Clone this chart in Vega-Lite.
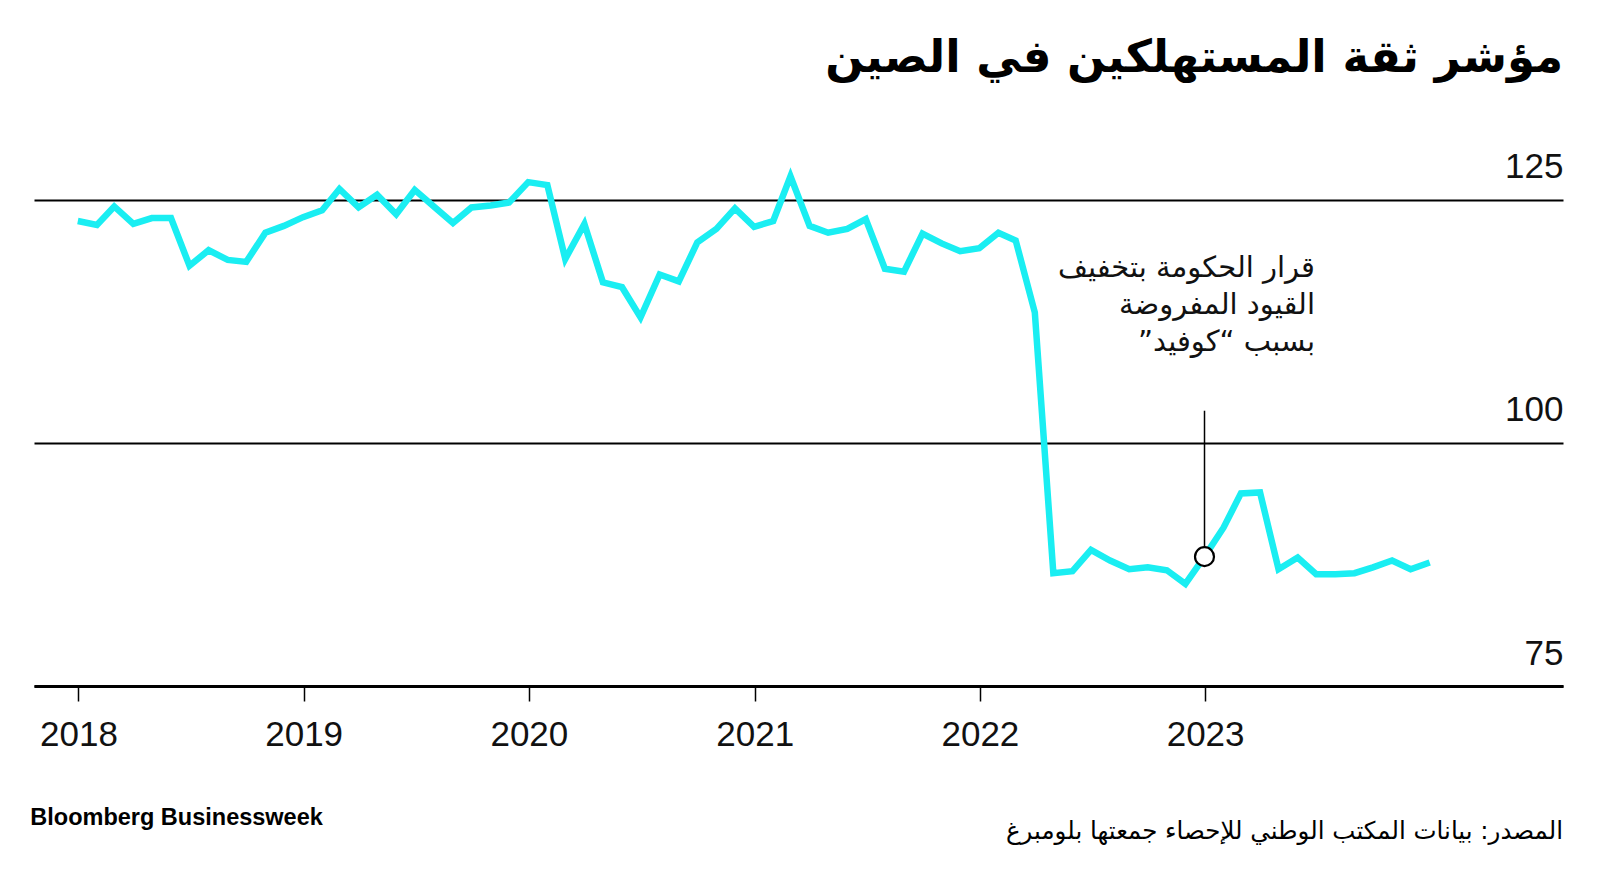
{
  "$schema": "https://vega.github.io/schema/vega-lite/v6.json",
  "width": 1529,
  "height": 535,
  "autosize": {"type": "none"},
  "padding": {"left": 34, "top": 151, "right": 37, "bottom": 184},
  "background": "white",
  "config": {"view": {"stroke": null}, "font": "Liberation Sans"},
  "layer": [
    {
      "data": {"values": [
        {"date": "2017-12-31", "value": 122.8},
        {"date": "2018-01-31", "value": 122.4},
        {"date": "2018-02-28", "value": 124.3},
        {"date": "2018-03-31", "value": 122.5},
        {"date": "2018-04-30", "value": 123.1},
        {"date": "2018-05-31", "value": 123.1},
        {"date": "2018-06-30", "value": 118.2},
        {"date": "2018-07-31", "value": 119.8},
        {"date": "2018-08-31", "value": 118.8},
        {"date": "2018-09-30", "value": 118.6},
        {"date": "2018-10-31", "value": 121.6},
        {"date": "2018-11-30", "value": 122.3},
        {"date": "2018-12-31", "value": 123.2},
        {"date": "2019-01-31", "value": 123.9},
        {"date": "2019-02-28", "value": 126.1},
        {"date": "2019-03-31", "value": 124.2},
        {"date": "2019-04-30", "value": 125.5},
        {"date": "2019-05-31", "value": 123.5},
        {"date": "2019-06-30", "value": 126.0},
        {"date": "2019-07-31", "value": 124.3},
        {"date": "2019-08-31", "value": 122.6},
        {"date": "2019-09-30", "value": 124.2},
        {"date": "2019-10-31", "value": 124.4},
        {"date": "2019-11-30", "value": 124.7},
        {"date": "2019-12-31", "value": 126.8},
        {"date": "2020-01-31", "value": 126.5},
        {"date": "2020-02-29", "value": 118.9},
        {"date": "2020-03-31", "value": 122.5},
        {"date": "2020-04-30", "value": 116.5},
        {"date": "2020-05-31", "value": 116.0},
        {"date": "2020-06-30", "value": 112.9},
        {"date": "2020-07-31", "value": 117.3},
        {"date": "2020-08-31", "value": 116.6},
        {"date": "2020-09-30", "value": 120.6},
        {"date": "2020-10-31", "value": 122.0},
        {"date": "2020-11-30", "value": 124.1},
        {"date": "2020-12-31", "value": 122.2},
        {"date": "2021-01-31", "value": 122.8},
        {"date": "2021-02-28", "value": 127.4},
        {"date": "2021-03-31", "value": 122.3},
        {"date": "2021-04-30", "value": 121.6},
        {"date": "2021-05-31", "value": 122.0},
        {"date": "2021-06-30", "value": 123.0},
        {"date": "2021-07-31", "value": 117.9},
        {"date": "2021-08-31", "value": 117.6},
        {"date": "2021-09-30", "value": 121.5},
        {"date": "2021-10-31", "value": 120.5},
        {"date": "2021-11-30", "value": 119.7},
        {"date": "2021-12-31", "value": 120.0},
        {"date": "2022-01-31", "value": 121.6},
        {"date": "2022-02-28", "value": 120.8},
        {"date": "2022-03-31", "value": 113.4},
        {"date": "2022-04-30", "value": 86.6},
        {"date": "2022-05-31", "value": 86.8},
        {"date": "2022-06-30", "value": 89.0},
        {"date": "2022-07-31", "value": 87.9},
        {"date": "2022-08-31", "value": 87.0},
        {"date": "2022-09-30", "value": 87.2},
        {"date": "2022-10-31", "value": 86.9},
        {"date": "2022-11-30", "value": 85.5},
        {"date": "2022-12-31", "value": 88.3},
        {"date": "2023-01-31", "value": 91.3},
        {"date": "2023-02-28", "value": 94.8},
        {"date": "2023-03-31", "value": 94.9},
        {"date": "2023-04-30", "value": 87.0},
        {"date": "2023-05-31", "value": 88.2},
        {"date": "2023-06-30", "value": 86.5},
        {"date": "2023-07-31", "value": 86.5},
        {"date": "2023-08-31", "value": 86.6},
        {"date": "2023-09-30", "value": 87.2},
        {"date": "2023-10-31", "value": 87.9},
        {"date": "2023-11-30", "value": 87.0},
        {"date": "2023-12-31", "value": 87.7}
      ]},
      "mark": {"type": "line", "color": "#1AEEF2", "strokeWidth": 6.5, "strokeJoin": "miter"},
      "encoding": {
        "x": {
          "field": "date",
          "type": "temporal",
          "scale": {"type": "utc", "domain": [{"year": 2017, "month": 10, "date": 21, "utc": true}, {"year": 2024, "month": 8, "date": 3, "utc": true}]},
          "axis": {
            "title": null,
            "values": [
              {"year": 2018, "month": 1, "date": 1, "utc": true},
              {"year": 2019, "month": 1, "date": 1, "utc": true},
              {"year": 2020, "month": 1, "date": 1, "utc": true},
              {"year": 2021, "month": 1, "date": 1, "utc": true},
              {"year": 2022, "month": 1, "date": 1, "utc": true},
              {"year": 2023, "month": 1, "date": 1, "utc": true}
            ],
            "format": "%Y",
            "labelFont": "Liberation Sans",
            "labelFontSize": 35,
            "labelColor": "#111111",
            "labelBaseline": "middle",
            "labelPadding": 33,
            "labelFlush": false,
            "labelOverlap": false,
            "tickSize": 15,
            "tickColor": "black",
            "tickWidth": 1.5,
            "domainColor": "black",
            "domainWidth": 3,
            "grid": false
          }
        },
        "y": {
          "field": "value",
          "type": "quantitative",
          "scale": {"domain": [75, 130], "zero": false, "nice": false},
          "axis": {
            "orient": "right",
            "title": null,
            "values": [75, 100, 125],
            "grid": true,
            "gridColor": "black",
            "gridWidth": 2,
            "gridOpacity": 1,
            "domain": false,
            "ticks": false,
            "labelAlign": "right",
            "labelBaseline": "alphabetic",
            "labelOffset": -22,
            "labelPadding": 0,
            "labelFont": "Liberation Sans",
            "labelFontSize": 35,
            "labelColor": "#111111",
            "labelFlush": false
          }
        }
      }
    },
    {
      "data": {"values": [{}]},
      "mark": {"type": "rule", "color": "black", "strokeWidth": 1.5},
      "encoding": {
        "x": {"datum": {"year": 2022, "month": 12, "date": 31, "utc": true}, "type": "temporal"},
        "y": {"datum": 103.3, "type": "quantitative"},
        "y2": {"datum": 88.3}
      }
    },
    {
      "data": {"values": [{}]},
      "mark": {"type": "circle", "fill": "white", "stroke": "black", "strokeWidth": 2.2, "size": 360, "opacity": 1},
      "encoding": {
        "x": {"datum": {"year": 2022, "month": 12, "date": 31, "utc": true}, "type": "temporal"},
        "y": {"datum": 88.3, "type": "quantitative"}
      }
    },
    {
      "data": {"values": [{}]},
      "mark": {"type": "text", "align": "right", "baseline": "middle", "font": "DejaVu Sans", "fontSize": 29, "lineHeight": 37, "color": "#111111"},
      "encoding": {
        "x": {"datum": {"year": 2023, "month": 6, "date": 28, "utc": true}, "type": "temporal"},
        "y": {"datum": 118.0, "type": "quantitative"},
        "text": {"value": ["قرار الحكومة بتخفيف", "القيود المفروضة", "بسبب “كوفيد”‏"]}
      }
    },
    {
      "data": {"values": [{}]},
      "mark": {"type": "text", "align": "right", "baseline": "middle", "font": "DejaVu Sans", "fontWeight": "bold", "fontSize": 45, "color": "black"},
      "encoding": {
        "x": {"datum": {"year": 2024, "month": 8, "date": 3, "utc": true}, "type": "temporal"},
        "y": {"datum": 139.6, "type": "quantitative"},
        "text": {"value": "مؤشر ثقة المستهلكين في الصين"}
      }
    },
    {
      "data": {"values": [{}]},
      "mark": {"type": "text", "align": "left", "baseline": "middle", "font": "Liberation Sans", "fontWeight": "bold", "fontSize": 23.5, "color": "black"},
      "encoding": {
        "x": {"datum": {"year": 2017, "month": 10, "date": 15, "utc": true}, "type": "temporal"},
        "y": {"datum": 61.4, "type": "quantitative"},
        "text": {"value": "Bloomberg Businessweek"}
      }
    },
    {
      "data": {"values": [{}]},
      "mark": {"type": "text", "align": "right", "baseline": "middle", "font": "DejaVu Sans", "fontSize": 24.5, "color": "black"},
      "encoding": {
        "x": {"datum": {"year": 2024, "month": 8, "date": 3, "utc": true}, "type": "temporal"},
        "y": {"datum": 60.0, "type": "quantitative"},
        "text": {"value": "المصدر: بيانات المكتب الوطني للإحصاء جمعتها بلومبرغ"}
      }
    }
  ]
}
